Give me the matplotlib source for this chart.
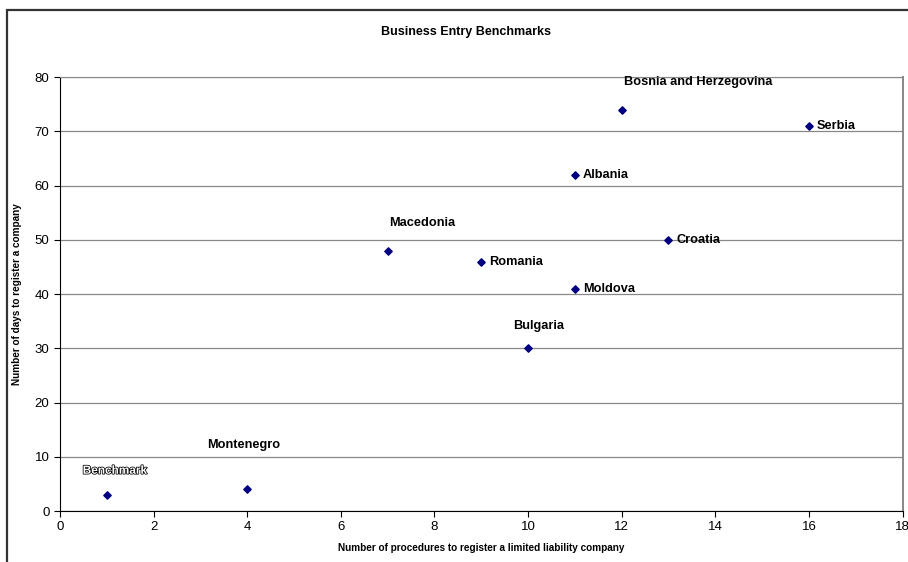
import matplotlib.pyplot as plt
import matplotlib.patheffects as pe
from matplotlib.patches import Rectangle

plt.rcParams['font.family'] = ['Liberation Sans', 'DejaVu Sans']

countries = ['Benchmark', 'Montenegro', 'Macedonia', 'Romania', 'Bulgaria',
             'Moldova', 'Albania', 'Bosnia and Herzegovina', 'Croatia', 'Serbia']
procedures = [1, 4, 7, 9, 10, 11, 11, 12, 13, 16]
days = [3, 4, 48, 46, 30, 41, 62, 74, 50, 71]

# label offsets in pixels (dragged labels in the original)
offsets = {'Benchmark': (-24, 24), 'Montenegro': (-40, 44), 'Macedonia': (2, 28),
           'Romania': (8, 0), 'Bulgaria': (-15, 22), 'Moldova': (8, 0),
           'Albania': (8, 0), 'Bosnia and Herzegovina': (2, 28),
           'Croatia': (8, 0), 'Serbia': (8, 0)}

fig = plt.figure(figsize=(9.08, 5.62), dpi=100)
ax = fig.add_axes([0.066, 0.0907, 0.928, 0.772])

# outer chart border
fig.patches.append(Rectangle((7 / 908, -0.1), 1.2, 1 - 10 / 562 + 0.1,
                             transform=fig.transFigure, fill=False,
                             edgecolor='#333333', linewidth=1.6))

ax.scatter(procedures, days, marker='D', s=14, color='#000080', zorder=3)

for name, x, y in zip(countries, procedures, days):
    dx, dy = offsets[name]
    kw = dict(fontweight='bold', ha='left', va='center',
              textcoords='offset pixels', xytext=(dx, dy))
    if name == 'Benchmark':
        ax.annotate(name, (x, y), color='white', fontsize=8.5,
                    path_effects=[pe.withStroke(linewidth=1.1, foreground='black')],
                    **kw)
    else:
        ax.annotate(name, (x, y), color='black', fontsize=9.2, **kw)

ax.set_xlim(0, 18)
ax.set_ylim(0, 80)
ax.set_xticks(range(0, 19, 2))
ax.set_yticks(range(0, 81, 10))
ax.yaxis.grid(True, color='#888888', linewidth=0.9)
ax.set_axisbelow(True)
ax.tick_params(labelsize=9.5, length=4, width=0.8, color='black')

ax.spines['left'].set_color('black')
ax.spines['bottom'].set_color('black')
ax.spines['right'].set_color('#888888')
ax.spines['top'].set_color('#888888')
ax.spines['right'].set_linewidth(1.4)

ax.set_xlabel('Number of procedures to register a limited liability company',
              fontsize=7.2, fontweight='bold', labelpad=7)
ax.set_ylabel('Number of days to register a company',
              fontsize=7.2, fontweight='bold', labelpad=9)

fig.text(466 / 908, 1 - 32 / 562, 'Business Entry Benchmarks',
         ha='center', va='center', fontsize=9, fontweight='bold')

fig.savefig('out.png', dpi=100)
